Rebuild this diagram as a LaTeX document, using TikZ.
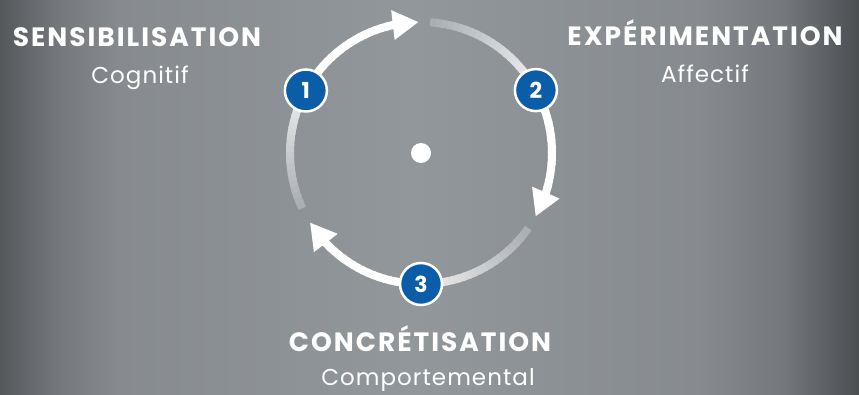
\documentclass[tikz,border=0pt]{standalone}
\usepackage{fontspec}
\setmainfont{Poppins}
\usetikzlibrary{arrows.meta,bending,calc}
\definecolor{bgedgel}{HTML}{55585B}
\definecolor{bgside}{HTML}{75797D}
\definecolor{bglight}{HTML}{878B8F}
\definecolor{bgmid}{HTML}{92979B}
\definecolor{bgedger}{HTML}{4B4E51}
\definecolor{numblue}{HTML}{0B5DA7}
\definecolor{arcfaint}{HTML}{A0A5AA}
\pgfdeclarehorizontalshading{backdrop}{100bp}{color(0bp)=(bgedgel); color(25bp)=(bgedgel);
  color(28.5bp)=(bgside); color(32bp)=(bglight); color(49bp)=(bgmid); color(65.5bp)=(bglight);
  color(70.5bp)=(bgside); color(75bp)=(bgedger); color(100bp)=(bgedger)}

\begin{document}
\begin{tikzpicture}
  [x=1pt,y=1pt,
   num/.style={circle,draw=white,fill=numblue,line width=2.5pt,minimum size=42pt,inner sep=0pt,text=white,font=\bfseries\fontsize{22}{22}\selectfont},
   title/.style={anchor=base,text=white,font=\bfseries\fontsize{26.5}{26.5}\selectfont\addfontfeatures{LetterSpace=7.5}},
   sub/.style={anchor=base,text=white,font=\fontsize{23}{23}\selectfont\addfontfeatures{LetterSpace=4.5}},
   ring/.style={line width=8pt},
   tip/.style={-{Triangle[length=26pt,width=28pt]}}]
  \shade[shading=backdrop] (0,0) rectangle (859,394);
  \useasboundingbox (0,0) rectangle (859,394);
  \coordinate (c) at (421,241);

  % three arcs, faint at the start and white towards the arrow
  \foreach \a/\b in {205/91, 86/-29, -35/-148}{
    \pgfmathsetmacro\e{\b+12}
    \foreach \i in {0,...,39}{
      \pgfmathsetmacro\p{min(100,10+\i*3.5)}
      \pgfmathsetmacro\s{\a+(\e-\a)*\i/40}
      \pgfmathsetmacro\t{\a+(\e-\a)*(\i+1.4)/40}
      \draw[ring,white!\p!arcfaint] ($(c)+(\s:131)$) arc[start angle=\s,end angle=\t,radius=131];
    }
    \draw[ring,white,tip] ($(c)+(\e:131)$) arc[start angle=\e,end angle=\b,radius=131];
  }

  \node[circle,fill=white,minimum size=20pt,inner sep=0pt] (dot) at (c) {};
  \node[num] (n1) at ($(c)+(151.5:131)$) {1};
  \node[num] (n2) at ($(c)+(28.7:131)$) {2};
  \node[num] (n3) at ($(c)+(270:131)$) {3};

  \node[title] (t1) at (137,347) {SENSIBILISATION};
  \node[sub] (s1) at (140,310) {Cognitif};
  \node[title] (t2) at (705,348) {EXPÉRIMENTATION};
  \node[sub] (s2) at (705,311) {Affectif};
  \node[title] (t3) at (420,43) {CONCRÉTISATION};
  \node[sub] (s3) at (428,9) {Comportemental};
\end{tikzpicture}
\end{document}
